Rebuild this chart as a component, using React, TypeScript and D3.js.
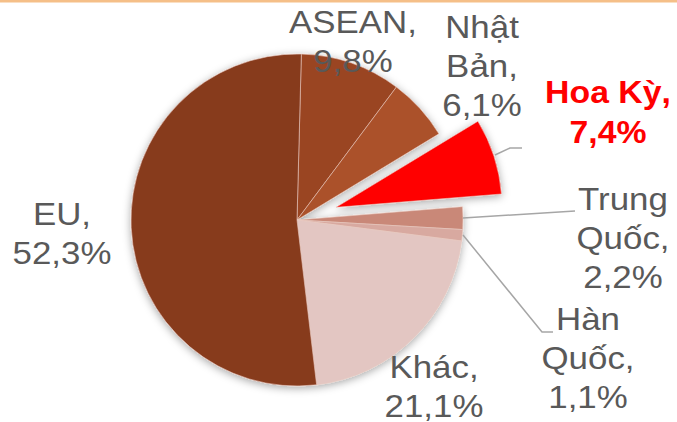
import React from "react";
import * as d3 from "d3";

const categories = ["ASEAN", "Nhật Bản", "Hoa Kỳ", "Trung Quốc", "Hàn Quốc", "Khác", "EU"];
const values = [9.8, 6.1, 7.4, 2.2, 1.1, 21.1, 52.3];
const valueLabels = ["9,8%", "6,1%", "7,4%", "2,2%", "1,1%", "21,1%", "52,3%"];
const labelLines = [
  ["ASEAN,", "9,8%"],
  ["Nhật", "Bản,", "6,1%"],
  ["Hoa Kỳ,", "7,4%"],
  ["Trung", "Quốc,", "2,2%"],
  ["Hàn", "Quốc,", "1,1%"],
  ["Khác,", "21,1%"],
  ["EU,", "52,3%"],
];
const colors = ["#9A4422", "#AB5129", "#FF0000", "#C98878", "#D8A9A0", "#E3C6C2", "#873A1D"];

const W = 677;
const H = 422;
const cx = 297;
const cy = 220;
const R = 166;
const startOffset = (1.5 * Math.PI) / 180;
const explodeIndex = 2;
const explodeDist = 41;

// label anchor positions (center x, first baseline y)
const labelPos: [number, number][] = [
  [353, 33],
  [482, 38],
  [608, 103],
  [623, 210],
  [588, 330],
  [434, 378],
  [62, 225],
];

export default function App() {
  const pie = d3
    .pie<number>()
    .sort(null)
    .value((d) => d)
    .startAngle(startOffset)
    .endAngle(2 * Math.PI + startOffset);
  const arcs = pie(values);
  const arc = d3.arc<d3.PieArcDatum<number>>().innerRadius(0).outerRadius(R);

  const lineH = 39;
  const sx = 1.09;

  return (
    <svg width={W} height={H} style={{ position: "absolute", left: 0, top: 0 }} fontFamily="'Liberation Sans', Arial, sans-serif">
      <defs>
        <filter id="shadow" x="-20%" y="-20%" width="140%" height="140%">
          <feDropShadow dx="0" dy="2" stdDeviation="4" floodColor="#000" floodOpacity="0.35" />
        </filter>
      </defs>
      <rect x={0} y={0} width={W} height={H} fill="#fff" />
      <rect x={0} y={0} width={W} height={2.5} fill="#F5BF88" />
      <g filter="url(#shadow)">
        {arcs.map((a, i) => {
          const mid = (a.startAngle + a.endAngle) / 2;
          const off = i === explodeIndex ? explodeDist : 0;
          const tx = cx + off * Math.sin(mid);
          const ty = cy - off * Math.cos(mid);
          return (
            <path
              key={categories[i]}
              d={arc(a) || ""}
              transform={`translate(${tx},${ty})`}
              fill={colors[i]}
              stroke="#E9C9BF"
              strokeWidth={0.6}
            />
          );
        })}
      </g>
      <g fill="none" stroke="#A6A6A6" strokeWidth={1.5}>
        <polyline points="495,155 510,148 522,148" />
        <polyline points="463,218 575,211" />
        <polyline points="463,235 542,332 553,332" />
      </g>
      {labelLines.map((lines, i) => {
        const x = labelPos[i][0];
        const isEx = i === explodeIndex;
        return (
          <text
            key={categories[i] + "-label"}
            x={x}
            y={labelPos[i][1]}
            transform={`translate(${x},0) scale(${sx},1) translate(${-x},0)`}
            textAnchor="middle"
            fontSize={isEx ? 31 : 32}
            fontWeight={isEx ? "bold" : "normal"}
            fill={isEx ? "#FF0000" : "#595959"}
            aria-label={`${categories[i]}, ${valueLabels[i]}`}
          >
            {lines.map((l, j) => (
              <tspan key={j} x={x} dy={j === 0 ? 0 : isEx ? 40 : lineH}>
                {l}
              </tspan>
            ))}
          </text>
        );
      })}
    </svg>
  );
}
